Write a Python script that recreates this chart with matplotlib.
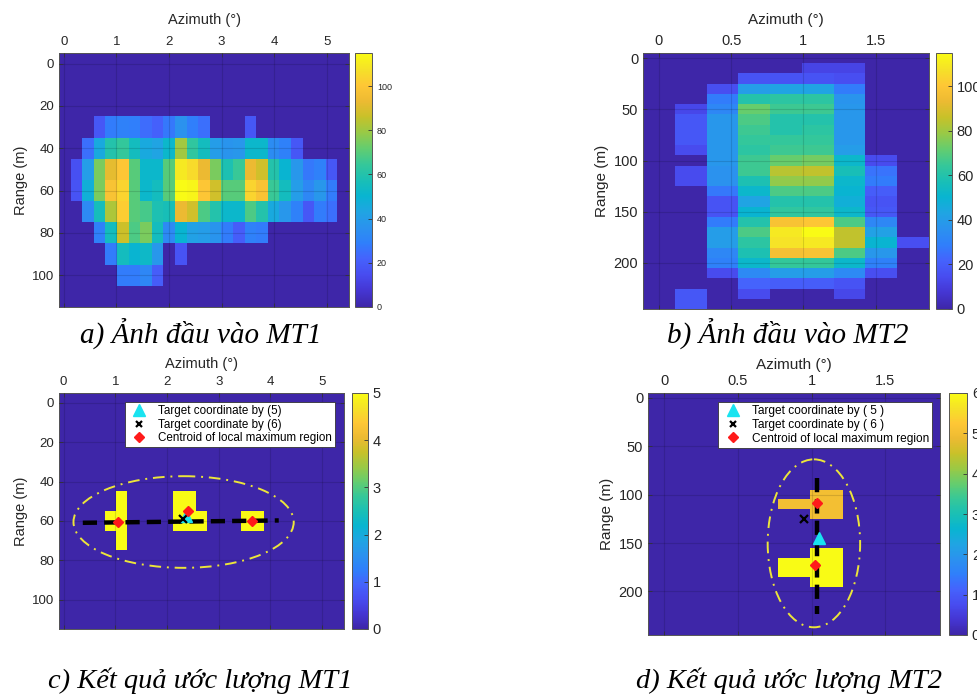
import numpy as np
import matplotlib
matplotlib.use("Agg")
import matplotlib.pyplot as plt
from matplotlib.colors import LinearSegmentedColormap
from matplotlib.patches import Ellipse
from matplotlib.lines import Line2D

plt.rcParams['font.family'] = ['Liberation Sans', 'DejaVu Sans']

# ---- parula-like colour map ----
parula_anchors = [
    (0.2422, 0.1504, 0.6603), (0.2691, 0.2094, 0.8249), (0.2813, 0.2985, 0.9397),
    (0.2710, 0.3860, 0.9898), (0.1869, 0.4975, 0.9844), (0.1686, 0.5705, 0.9357),
    (0.1253, 0.6453, 0.8887), (0.0328, 0.7071, 0.8183), (0.1023, 0.7510, 0.7088),
    (0.2118, 0.7828, 0.5983), (0.3921, 0.8029, 0.4344), (0.6024, 0.7896, 0.2726),
    (0.7829, 0.7579, 0.1608), (0.9272, 0.7298, 0.1973), (0.9962, 0.7798, 0.2095),
    (0.9619, 0.8840, 0.1557), (0.9769, 0.9839, 0.0805),
]
parula = LinearSegmentedColormap.from_list("parula", parula_anchors, N=256)

# ---- MT1 input image (range rows 0..110 m, 25 azimuth bins) ----
mt1_step = 0.2205
mt1_az = 0.02 + mt1_step * np.arange(25)
mt1_range = 10 * np.arange(12)
mt1_image = [
    [0] * 25,
    [0] * 25,
    [0] * 25,
    [0, 0, 0, 18, 28, 30, 29, 24, 21, 27, 36, 29, 25, 0, 0, 0, 18, 0, 0, 0, 0, 0, 0, 0, 0],
    [0, 0, 25, 45, 60, 64, 55, 45, 43, 52, 80, 63, 55, 40, 37, 38, 52, 52, 34, 30, 18, 0, 0, 0, 0],
    [0, 16, 40, 75, 92, 100, 70, 52, 52, 70, 110, 106, 93, 75, 58, 65, 93, 88, 60, 50, 38, 27, 30, 18, 0],
    [0, 17, 48, 75, 98, 104, 70, 52, 55, 70, 115, 113, 100, 88, 70, 70, 104, 98, 65, 55, 40, 32, 38, 28, 0],
    [0, 0, 33, 56, 82, 102, 70, 67, 58, 57, 93, 88, 68, 60, 52, 52, 68, 60, 45, 38, 30, 18, 28, 25, 0],
    [0, 0, 0, 30, 55, 87, 68, 75, 55, 33, 50, 42, 40, 37, 28, 20, 30, 28, 0, 0, 0, 0, 0, 0, 0],
    [0, 0, 0, 0, 28, 55, 50, 53, 38, 0, 17, 0, 0, 0, 0, 0, 0, 0, 0, 0, 0, 0, 0, 0, 0],
    [0, 0, 0, 0, 0, 28, 28, 32, 20, 0, 0, 0, 0, 0, 0, 0, 0, 0, 0, 0, 0, 0, 0, 0, 0],
    [0] * 25,
]

# ---- MT2 input image (range rows 0..240 m, 9 azimuth bins) ----
mt2_step = 0.22
mt2_az = mt2_step * np.arange(9)
mt2_range = 10 * np.arange(25)
mt2_image = [
    [0, 0, 0, 0, 0, 0, 0, 0, 0],
    [0, 0, 0, 0, 0, 12, 12, 0, 0],
    [0, 0, 0, 17, 17, 17, 15, 0, 0],
    [0, 0, 15, 40, 43, 43, 28, 0, 0],
    [0, 0, 28, 60, 62, 62, 37, 0, 0],
    [0, 13, 32, 72, 66, 66, 38, 0, 0],
    [0, 18, 38, 68, 60, 60, 38, 0, 0],
    [0, 18, 38, 66, 60, 62, 38, 0, 0],
    [0, 18, 38, 64, 64, 64, 38, 0, 0],
    [0, 14, 38, 62, 66, 66, 40, 0, 0],
    [0, 0, 38, 66, 72, 74, 52, 14, 0],
    [0, 14, 36, 66, 84, 85, 57, 26, 0],
    [0, 14, 36, 58, 78, 78, 52, 28, 0],
    [0, 0, 27, 52, 68, 68, 50, 20, 0],
    [0, 0, 17, 43, 60, 60, 48, 17, 0],
    [0, 0, 17, 50, 63, 63, 52, 18, 0],
    [0, 0, 28, 60, 98, 100, 68, 32, 0],
    [0, 0, 40, 68, 110, 115, 85, 42, 0],
    [0, 0, 40, 62, 108, 110, 85, 50, 15],
    [0, 0, 32, 58, 97, 98, 68, 38, 0],
    [0, 0, 30, 52, 64, 64, 52, 30, 0],
    [0, 0, 14, 33, 40, 40, 33, 15, 0],
    [0, 0, 0, 22, 20, 20, 17, 0, 0],
    [0, 18, 0, 14, 0, 0, 13, 0, 0],
    [0, 18, 0, 0, 0, 0, 0, 0, 0],
]

# ---- local-maximum regions: (range row index, azimuth bin index, level) ----
mt1_regions = [(6, 4, 5), (5, 5, 5), (6, 5, 5), (7, 5, 5),
               (5, 10, 5), (6, 10, 5), (5, 11, 5), (6, 11, 5), (6, 12, 5),
               (6, 16, 5), (6, 17, 5)]
mt2_regions = [(10, 5, 5), (11, 5, 5), (12, 5, 5), (11, 4, 5),
               (16, 5, 6), (17, 5, 6), (18, 5, 6), (19, 5, 6), (17, 4, 6), (18, 4, 6)]

# ---- estimated coordinates ----
mt1_centroid_az = [1.055, 2.40, 3.65]
mt1_centroid_rng = [60.7, 55.1, 60.0]
mt1_est5 = (2.375, 57.3)
mt1_est6 = (2.30, 59.0)
mt1_axis_line_az = [0.37, 4.16]
mt1_axis_line_rng = [61.0, 59.8]
mt1_ellipse = dict(center=(2.32, 60.6), width=4.26, height=46.6)

mt2_centroid_az = [1.036, 1.025]
mt2_centroid_rng = [109.0, 173.0]
mt2_est5 = (1.05, 144.3)
mt2_est6 = (0.946, 124.7)
mt2_axis_line_az = [1.036, 1.036]
mt2_axis_line_rng = [82.5, 223.0]
mt2_ellipse = dict(center=(1.015, 150.3), width=0.627, height=173.5)

captions = ["a) Ảnh đầu vào MT1", "b) Ảnh đầu vào MT2",
            "c) Kết quả ước lượng MT1", "d) Kết quả ước lượng MT2"]


def region_image(regions, n_rows, n_cols):
    img = np.zeros((n_rows, n_cols))
    for r, c, v in regions:
        img[r, c] = v
    return img


fig = plt.figure(figsize=(9.77, 6.94), dpi=100)
W, H = 977.0, 694.0


def px_axes(x0, y0, x1, y1):
    return fig.add_axes([x0 / W, 1 - y1 / H, (x1 - x0) / W, (y1 - y0) / H])


def heatmap(ax, cax, az, rng, img, xticks, yticks, fs, cb_fs, cb_ticks, label_fs, xpad):
    img = np.asarray(img, dtype=float)
    mesh = ax.pcolormesh(az, rng, img, shading='nearest', cmap=parula,
                         vmin=0, vmax=img.max())
    step_az = az[1] - az[0]
    step_r = rng[1] - rng[0]
    ax.set_xlim(az[0] - step_az / 2, az[-1] + step_az / 2)
    ax.set_ylim(rng[-1] + step_r / 2, rng[0] - step_r / 2)
    ax.xaxis.tick_top()
    ax.xaxis.set_label_position('top')
    ax.set_xticks(xticks)
    ax.set_yticks(yticks)
    ax.set_xticklabels([f"{t:g}" for t in xticks])
    ax.tick_params(direction='in', length=3, width=0.6, labelsize=fs,
                   top=True, bottom=True, left=True, right=True,
                   labeltop=True, labelbottom=False, colors='#333333', labelcolor='#262626')
    ax.grid(True, color='black', alpha=0.13, linewidth=0.8)
    ax.set_axisbelow(False)
    for s in ax.spines.values():
        s.set_color('#555555')
        s.set_linewidth(0.7)
    ax.set_xlabel("Azimuth (°)", fontsize=label_fs, color='#262626', labelpad=xpad)
    ax.set_ylabel("Range (m)", fontsize=label_fs, color='#262626', labelpad=3)
    cb = fig.colorbar(mesh, cax=cax, ticks=cb_ticks)
    cb.ax.tick_params(direction='in', length=3, width=0.6, labelsize=cb_fs,
                      colors='#333333', labelcolor='#262626')
    cb.outline.set_edgecolor('#555555')
    cb.outline.set_linewidth(0.7)
    return mesh


def overlays(ax, c_az, c_rng, est5, est6, line_az, line_rng, ell, legend_anchor, spaced, leg_fs):
    ax.plot(line_az, line_rng, color='black', lw=3.2, linestyle=(0, (3.2, 1.6)),
            solid_capstyle='butt', zorder=4)
    ax.plot([est5[0]], [est5[1]], marker='^', color='#19e3f0', ms=8, ls='none', zorder=5)
    ax.plot([est6[0]], [est6[1]], marker='x', color='black', ms=5.5, mew=1.6, ls='none', zorder=6)
    ax.plot(c_az, c_rng, marker='D', color='#ff1a1a', ms=5, ls='none', zorder=7)
    ax.add_patch(Ellipse(ell['center'], ell['width'], ell['height'], fill=False,
                         edgecolor='#ece53a', lw=1.4, linestyle=(0, (6, 3, 1, 3)), zorder=4))
    n5 = "( 5 )" if spaced else "(5)"
    n6 = "( 6 )" if spaced else "(6)"
    handles = [
        Line2D([], [], marker='^', color='#19e3f0', ls='none', ms=9),
        Line2D([], [], marker='x', color='black', ls='none', ms=5, mew=1.6),
        Line2D([], [], marker='D', color='#ff1a1a', ls='none', ms=5.5),
    ]
    labels = [f"Target coordinate by {n5}", f"Target coordinate by {n6}",
              "Centroid of local maximum region"]
    leg = ax.legend(handles, labels, loc='upper right', bbox_to_anchor=legend_anchor,
                    borderaxespad=0, fontsize=leg_fs, handlelength=2.0, handletextpad=0.6,
                    labelspacing=0.15, borderpad=0.25, fancybox=False, framealpha=1,
                    edgecolor='#333333')
    leg.get_frame().set_linewidth(0.6)
    leg.set_zorder(10)


# a) MT1 input
ax_a = px_axes(59, 53, 349, 307)
cax_a = px_axes(355, 53, 372, 307)
heatmap(ax_a, cax_a, mt1_az, mt1_range, mt1_image, [0, 1, 2, 3, 4, 5],
        [0, 20, 40, 60, 80, 100], 9.5, 6.5, [0, 20, 40, 60, 80, 100], 10.5, 9)

# b) MT2 input
ax_b = px_axes(643, 53, 929, 309)
cax_b = px_axes(936, 53, 952, 309)
heatmap(ax_b, cax_b, mt2_az, mt2_range, mt2_image, [0, 0.5, 1, 1.5],
        [0, 50, 100, 150, 200], 10.5, 10.5, [0, 20, 40, 60, 80, 100], 11, 7)

# c) MT1 estimation
ax_c = px_axes(59, 393, 344, 629)
cax_c = px_axes(352, 393, 368, 629)
heatmap(ax_c, cax_c, mt1_az, mt1_range, region_image(mt1_regions, 12, 25),
        [0, 1, 2, 3, 4, 5], [0, 20, 40, 60, 80, 100], 9.5, 10.5, [0, 1, 2, 3, 4, 5], 10.5, 6)
overlays(ax_c, mt1_centroid_az, mt1_centroid_rng, mt1_est5, mt1_est6,
         mt1_axis_line_az, mt1_axis_line_rng, mt1_ellipse, (0.968, 0.962), False, 8.4)

# d) MT2 estimation
ax_d = px_axes(648, 393, 940, 635)
cax_d = px_axes(949, 393, 967, 635)
heatmap(ax_d, cax_d, mt2_az, mt2_range, region_image(mt2_regions, 25, 9),
        [0, 0.5, 1, 1.5], [0, 50, 100, 150, 200], 10.5, 10.5, [0, 1, 2, 3, 4, 5, 6], 11, 4)
overlays(ax_d, mt2_centroid_az, mt2_centroid_rng, mt2_est5, mt2_est6,
         mt2_axis_line_az, mt2_axis_line_rng, mt2_ellipse, (0.973, 0.963), True, 8.6)

# captions
cap_pos = [(201, 334), (788, 334), (200, 681), (789, 681)]
cap_size = [21, 21, 20.5, 20.5]
for (cx, cy), txt, fsz in zip(cap_pos, captions, cap_size):
    fig.text(cx / W, 1 - cy / H, txt, ha='center', va='center', fontsize=fsz,
             family=['Liberation Serif', 'DejaVu Serif'], style='italic', color='black')

fig.savefig("out.png", dpi=100, facecolor='white')
